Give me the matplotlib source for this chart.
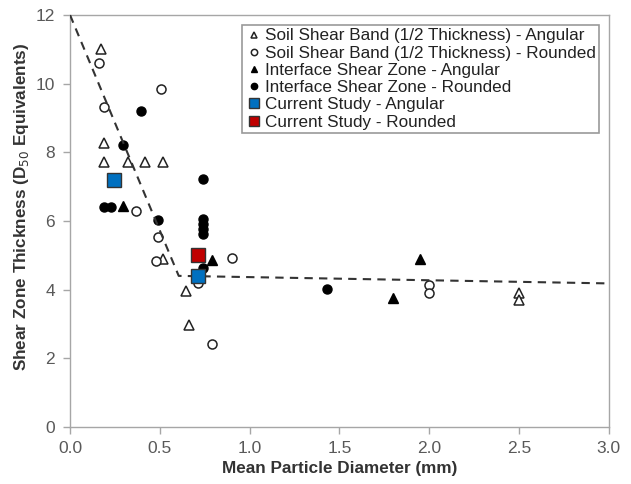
import matplotlib
matplotlib.use('Agg')
import matplotlib.pyplot as plt

plt.rcParams['font.family'] = ['Liberation Sans', 'DejaVu Sans']
plt.rcParams['font.size'] = 12

# Soil shear band (1/2 thickness)
soil_ang_x = [0.17, 0.19, 0.19, 0.32, 0.42, 0.52, 0.52, 0.645, 0.665, 2.5, 2.5]
soil_ang_y = [11.0, 8.26, 7.73, 7.73, 7.73, 7.73, 4.88, 3.95, 2.98, 3.89, 3.69]
soil_rnd_x = [0.163, 0.507, 0.19, 0.366, 0.49, 0.481, 0.903, 0.712, 0.793, 2.0, 2.0]
soil_rnd_y = [10.6, 9.83, 9.31, 6.28, 5.52, 4.83, 4.91, 4.2, 2.42, 4.14, 3.91]

# Interface shear zone
intf_ang_x = [0.295, 0.793, 1.799, 1.947]
intf_ang_y = [6.43, 4.86, 3.75, 4.9]
intf_rnd_x = [0.397, 0.295, 0.74, 0.19, 0.23, 0.487, 0.74, 0.74, 0.74, 0.74, 0.741, 1.429]
intf_rnd_y = [9.21, 8.22, 7.21, 6.41, 6.41, 6.03, 6.07, 5.92, 5.77, 5.62, 4.63, 4.01]

# Current study
cur_ang_x = [0.245, 0.715]
cur_ang_y = [7.2, 4.39]
cur_rnd_x = [0.715]
cur_rnd_y = [5.02]

# Bilinear trend
trend_x = [0.0, 0.605, 3.0]
trend_y = [12.0, 4.40, 4.18]

fig = plt.figure(figsize=(6.31, 4.84), dpi=100)
ax = fig.add_axes([0.111, 0.118, 0.854, 0.851])

ms = 6.5
ax.plot(soil_ang_x, soil_ang_y, ls='none', marker='^', ms=ms, mfc='white', mec='#222222', mew=1.1,
        label='Soil Shear Band (1/2 Thickness) - Angular', zorder=2)
ax.plot(soil_rnd_x, soil_rnd_y, ls='none', marker='o', ms=ms, mfc='white', mec='#222222', mew=1.1,
        label='Soil Shear Band (1/2 Thickness) - Rounded', zorder=2)
ax.plot(intf_ang_x, intf_ang_y, ls='none', marker='^', ms=ms, mfc='black', mec='black',
        label='Interface Shear Zone - Angular', zorder=2)
ax.plot(intf_rnd_x, intf_rnd_y, ls='none', marker='o', ms=ms, mfc='black', mec='black',
        label='Interface Shear Zone - Rounded', zorder=2)
ax.plot(cur_ang_x, cur_ang_y, ls='none', marker='s', ms=10.5, mfc='#0070C0', mec='#333333', mew=1.0,
        label='Current Study - Angular', zorder=4)
ax.plot(cur_rnd_x, cur_rnd_y, ls='none', marker='s', ms=10.5, mfc='#C00000', mec='#333333', mew=1.0,
        label='Current Study - Rounded', zorder=4)

ax.plot(trend_x, trend_y, ls=(0, (4, 3)), color='#333333', lw=1.5, zorder=3)

ax.set_xlim(0, 3.0)
ax.set_ylim(0, 12)
ax.set_xticks([0.0, 0.5, 1.0, 1.5, 2.0, 2.5, 3.0])
ax.set_xticklabels(['0.0', '0.5', '1.0', '1.5', '2.0', '2.5', '3.0'])
ax.set_yticks(range(0, 13, 2))

for s in ax.spines.values():
    s.set_color('#a6a6a6')
    s.set_linewidth(1.0)
ax.tick_params(colors='#a6a6a6', labelcolor='#595959', length=5, width=1.0, labelsize=12.5)
ax.tick_params(axis='x', pad=5)
ax.tick_params(axis='y', pad=6)

ax.set_xlabel('Mean Particle Diameter (mm)', fontweight='bold', fontsize=12.3, color='#333333', labelpad=4)
ax.set_ylabel('Shear Zone Thickness (D$_{50}$ Equivalents)', fontweight='bold', fontsize=12.3,
              color='#333333')
ax.yaxis.set_label_coords(-0.072, 0.534)

leg = ax.legend(loc='upper right', bbox_to_anchor=(0.992, 0.988), markerscale=0.7, fontsize=12.3,
                frameon=True, fancybox=False, handlelength=1.0, handletextpad=0.15,
                borderpad=0.2, labelspacing=0.13, borderaxespad=0.3)
leg.get_frame().set_edgecolor('#808080')
leg.get_frame().set_linewidth(1.2)
for t in leg.get_texts():
    t.set_color('#222222')

fig.savefig('out.png', dpi=100)
